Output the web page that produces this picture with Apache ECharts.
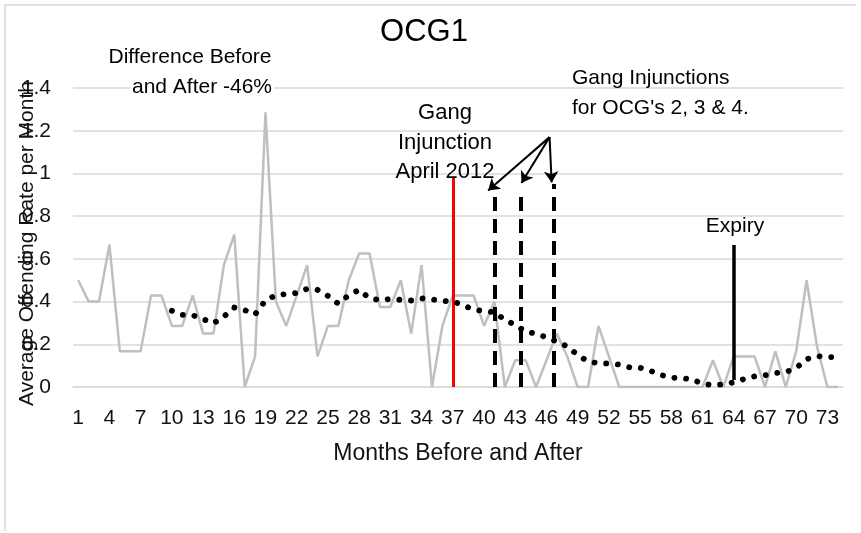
<!DOCTYPE html>
<html><head><meta charset="utf-8">
<script src="https://cdn.jsdelivr.net/npm/echarts@6/dist/echarts.min.js"></script>
<style>html,body{margin:0;padding:0;background:#fff}#c{width:861px;height:533px}</style>
</head><body><div id="c"></div>
<script>
// ---- data ----
const months = ['1','2','3','4','5','6','7','8','9','10','11','12','13','14','15','16','17','18','19','20',
  '21','22','23','24','25','26','27','28','29','30','31','32','33','34','35','36','37','38','39','40',
  '41','42','43','44','45','46','47','48','49','50','51','52','53','54','55','56','57','58','59','60',
  '61','62','63','64','65','66','67','68','69','70','71','72','73','74'];
const offendingRate = [0.5,0.4,0.4,0.667,0.167,0.167,0.167,0.429,0.429,0.286,
  0.286,0.429,0.25,0.25,0.571,0.714,0,0.143,1.286,0.4,
  0.286,0.429,0.571,0.143,0.286,0.286,0.5,0.625,0.625,0.375,
  0.375,0.5,0.25,0.571,0,0.286,0.429,0.429,0.429,0.286,
  0.4,0,0.125,0.125,0,0.125,0.25,0.143,0,0,
  0.286,0.143,0,0,0,0,0,0,0,0,
  0,0.125,0,0.143,0.143,0.143,0,0.167,0,0.167,
  0.5,0.19,0,0];
const movingAverage = [null,null,null,null,null,null,null,null,null,
  0.357,0.338,0.336,0.318,0.298,0.33,0.372,0.36,0.34,0.405,
  0.43,0.435,0.44,0.46,0.455,0.427,0.39,0.43,0.455,0.415,
  0.407,0.412,0.408,0.405,0.415,0.41,0.403,0.4,0.383,0.362,
  0.356,0.35,0.315,0.29,0.26,0.249,0.233,0.213,0.19,0.15,
  0.12,0.111,0.11,0.105,0.092,0.09,0.076,0.056,0.044,0.041,
  0.036,0.015,0.009,0.012,0.022,0.037,0.05,0.055,0.065,0.07,
  0.089,0.13,0.145,0.14,0.14];
const yMin = 0, yMax = 1.4, yStep = 0.2;
// annotation positions (month index / rate units)
const injunctionMonth = 37, injunctionTop = 0.98;
const otherInjunctionMonths = [41, 43.5, 46.7];
const otherInjunctionTops = [0.94, 0.9, 0.95];
const expiryMonth = 64, expiryRange = [0.033, 0.665];
const arrowStart = [46.3, 1.17];
const arrowTips = [[40.4, 0.92], [43.6, 0.955], [46.5, 0.958]];

const FONT = '"Liberation Sans", Arial, sans-serif';
const chart = echarts.init(document.getElementById('c'));

const vLines = [
  {coords: [[injunctionMonth, 0], [injunctionMonth, injunctionTop]],
   lineStyle: {color: '#ff0000', width: 3, type: 'solid', opacity: 1}},
  ...otherInjunctionMonths.map((m, i) => ({coords: [[m, 0], [m, otherInjunctionTops[i]]],
   lineStyle: {color: '#000', width: 4, type: [14, 8], opacity: 1}})),
  {coords: [[expiryMonth, expiryRange[0]], [expiryMonth, expiryRange[1]]],
   lineStyle: {color: '#000', width: 3.5, type: 'solid', opacity: 1}}
];
const arrows = arrowTips.map(t => ({coords: [arrowStart, t]}));

function txt(text, x, y, size, align, extra) {
  return {type: 'text', z: 100, style: Object.assign({
    text, x, y, fill: '#000', font: size + 'px ' + FONT,
    align: align, textAlign: align, verticalAlign: 'middle', textVerticalAlign: 'middle'
  }, extra || {})};
}

chart.setOption({
  animation: false,
  backgroundColor: '#fff',
  grid: {left: 73, right: 18, top: 88, bottom: 146, containLabel: false, outerBoundsMode: 'none'},
  xAxis: [{
    type: 'category', data: months, boundaryGap: true,
    axisLine: {lineStyle: {color: '#d9d9d9', width: 1.5}},
    axisTick: {show: false},
    axisLabel: {interval: 2, margin: 21, fontSize: 21, fontFamily: FONT, color: '#111'},
    name: 'Months Before and After', nameLocation: 'middle', nameGap: 55, nameMoveOverlap: false,
    nameTextStyle: {fontSize: 23, fontFamily: FONT, color: '#111'}
  }, {
    type: 'value', min: 0.5, max: 74.5, show: false
  }],
  yAxis: {
    type: 'value', min: yMin, max: yMax, interval: yStep,
    axisLine: {show: false}, axisTick: {show: false},
    splitLine: {lineStyle: {color: '#d9d9d9', width: 1.5}},
    axisLabel: {margin: 22, fontSize: 21, fontFamily: FONT, color: '#111'},
    name: 'Average Offending Rate per Month', nameLocation: 'middle', nameGap: 35, nameMoveOverlap: false,
    nameTextStyle: {fontSize: 21, fontFamily: FONT, color: '#111', padding: [0, 12, 0, 0]}
  },
  series: [{
    type: 'line', data: offendingRate, symbol: 'none', z: 2,
    lineStyle: {color: '#bfbfbf', width: 2.5}
  }, {
    type: 'lines', coordinateSystem: 'cartesian2d', xAxisIndex: 1, yAxisIndex: 0,
    symbol: ['none', 'none'], data: vLines, z: 3,
    lineStyle: {opacity: 1}
  }, {
    type: 'line', data: movingAverage, symbol: 'none', z: 4, connectNulls: false,
    lineStyle: {color: '#000', width: 5.8, type: [0.1, 11.6], cap: 'round'}
  }, {
    type: 'lines', coordinateSystem: 'cartesian2d', xAxisIndex: 1, yAxisIndex: 0,
    symbol: ['none', 'arrow'], symbolSize: 11, data: arrows, z: 5,
    lineStyle: {color: '#000', width: 2, type: 'solid', opacity: 1}
  }],
  graphic: [
    {type: 'polyline', shape: {points: [[5, 531], [5, 5], [856, 5]]}, style: {stroke: '#d9d9d9', lineWidth: 1.5, fill: null}},
    txt('OCG1', 424, 32, 31, 'center'),
    txt('Difference Before', 190, 57, 21, 'center'),
    txt('and After -46%', 202, 87, 21, 'center', {backgroundColor: '#fff', padding: [0, 2]}),
    txt('Gang Injunctions', 572, 78, 21, 'left'),
    txt("for OCG's 2, 3 & 4.", 572, 108, 21, 'left'),
    txt('Gang', 445, 113, 22, 'center'),
    txt('Injunction', 445, 143, 22, 'center'),
    txt('April 2012', 445, 172, 22, 'center'),
    txt('Expiry', 735, 226, 21, 'center')
  ]
});
</script></body></html>
